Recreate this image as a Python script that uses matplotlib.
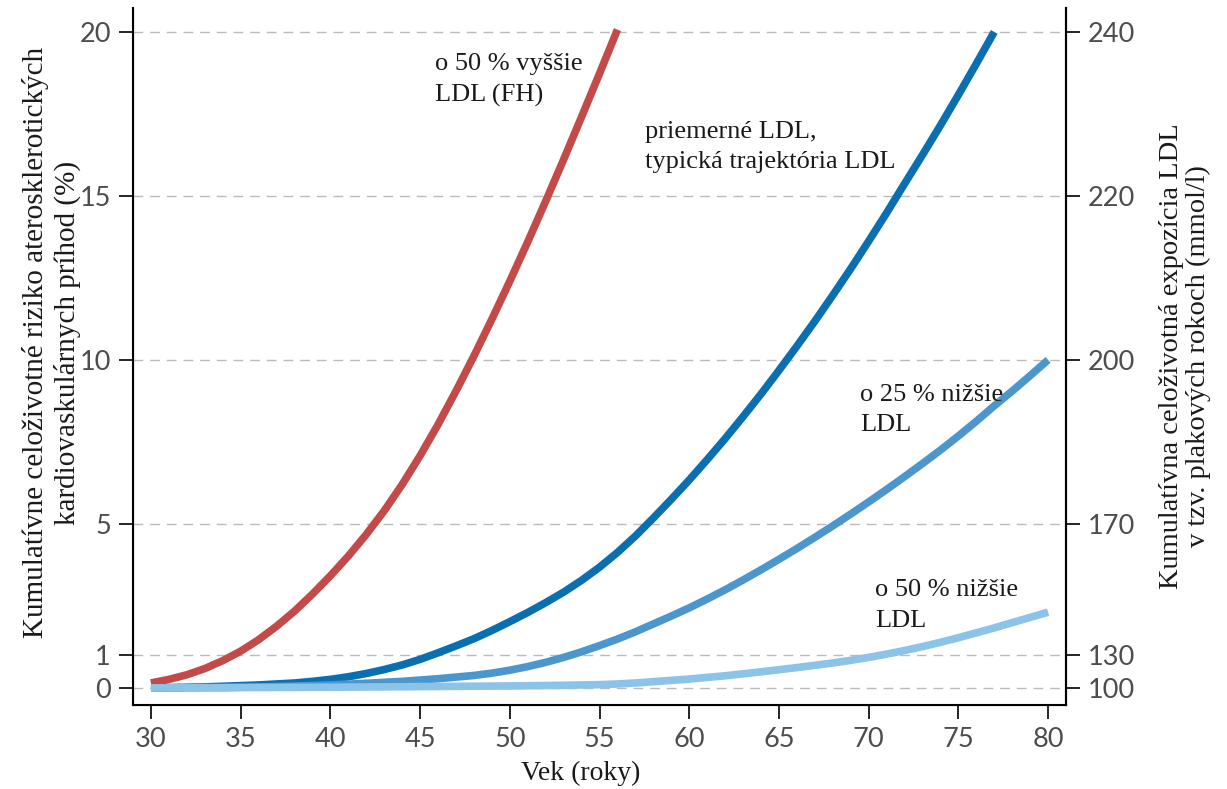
# Kumulativne riziko ASKVO podla veku a trajektorie LDL
import numpy as np
import matplotlib
matplotlib.use("Agg")
import matplotlib.pyplot as plt

# data odcitane z grafu (vek v rokoch, riziko v %)
age_fh = [30, 31, 32, 33, 34, 35, 36, 37, 38, 39, 40, 41, 42, 43, 44, 45, 46, 47, 48, 49, 50,
          51, 52, 53, 54, 55, 56]
risk_fh = [0.15, 0.26, 0.4, 0.59, 0.83, 1.12, 1.47, 1.88, 2.34, 2.86, 3.42, 4.02, 4.68, 5.4, 6.2,
           7.08, 8.03, 9.05, 10.12, 11.24, 12.4, 13.6, 14.84, 16.11, 17.41, 18.73, 20.07]

age_avg = [30, 32, 33, 34, 35, 36, 37, 38, 39, 40, 41, 42, 43, 44, 45, 46, 47, 48, 49, 50, 51, 52,
           53, 54, 55, 56, 57, 58, 59, 60, 61, 62, 63, 64, 65, 66, 67, 68, 69, 70, 71, 72, 73, 74,
           75, 76, 77]
risk_avg = [0.0, 0.02, 0.03, 0.05, 0.07, 0.09, 0.12, 0.15, 0.2, 0.26, 0.34, 0.44, 0.56, 0.7, 0.87,
            1.07, 1.28, 1.5, 1.75, 2.02, 2.3, 2.6, 2.92, 3.28, 3.68, 4.13, 4.63, 5.18, 5.75, 6.34,
            6.96, 7.6, 8.27, 8.96, 9.68, 10.42, 11.18, 11.97, 12.78, 13.62, 14.48, 15.37, 16.25,
            17.15, 18.08, 19.03, 20.0]

age_m25 = [30, 34, 37, 40, 42, 44, 46, 48, 49, 50, 51, 52, 53, 54, 55, 56, 57, 58, 59, 60, 61, 62,
           63, 64, 65, 66, 67, 68, 69, 70, 71, 72, 73, 74, 75, 76, 77, 78, 79, 80]
risk_m25 = [0.0, 0.01, 0.04, 0.09, 0.14, 0.2, 0.28, 0.38, 0.45, 0.54, 0.65, 0.78, 0.93, 1.1, 1.29,
            1.49, 1.71, 1.95, 2.19, 2.44, 2.71, 2.99, 3.29, 3.6, 3.92, 4.25, 4.59, 4.94, 5.3, 5.67,
            6.05, 6.44, 6.84, 7.25, 7.68, 8.13, 8.6, 9.05, 9.52, 10.0]

age_m50 = [30, 40, 45, 50, 53, 55, 56, 57, 58, 59, 60, 61, 62, 63, 64, 65, 66, 67, 68, 69, 70, 71,
           72, 73, 74, 75, 76, 77, 78, 79, 80]
risk_m50 = [0.0, 0.02, 0.04, 0.06, 0.08, 0.1, 0.12, 0.15, 0.19, 0.23, 0.27, 0.32, 0.37, 0.43, 0.49,
            0.555, 0.62, 0.69, 0.76, 0.84, 0.93, 1.03, 1.14, 1.26, 1.39, 1.53, 1.68, 1.83, 1.99,
            2.15, 2.31]

left_ticks = [0, 1, 5, 10, 15, 20]
right_labels = ['100', '130', '170', '200', '220', '240']
x_ticks = [30, 35, 40, 45, 50, 55, 60, 65, 70, 75, 80]

serif = 'Liberation Serif'
tick_font = 'Lato'
tick_col = '#4d4d4d'
txt_col = '#1a1a1a'

fig = plt.figure(figsize=(12.27, 7.89), dpi=100)
ax = fig.add_axes([0.1084, 0.1065, 0.7604, 0.8834])

ax.plot(age_fh, risk_fh, color='#c44a4a', lw=5.5, solid_capstyle='butt')
ax.plot(age_avg, risk_avg, color='#0a6fb0', lw=5.5, solid_capstyle='butt')
ax.plot(age_m25, risk_m25, color='#4b96cd', lw=5.5, solid_capstyle='butt')
ax.plot(age_m50, risk_m50, color='#8cc3e8', lw=5.5, solid_capstyle='butt')

ax.set_xlim(29, 81)
ax.set_ylim(-0.52, 20.73)
ax.set_xticks(x_ticks)
ax.set_yticks(left_ticks)
for y in left_ticks:
    ax.axhline(y, color='#bbbbbb', lw=1, dashes=(7, 5), zorder=0)

ax.spines['top'].set_visible(False)
for s in ['left', 'bottom', 'right']:
    ax.spines[s].set_linewidth(1.5)
ax.tick_params(axis='both', direction='out', length=10, width=1.2, colors='black',
               labelcolor=tick_col, labelsize=19.5, pad=6)
for lab in ax.get_xticklabels() + ax.get_yticklabels():
    lab.set_family(tick_font)

ax2 = ax.twinx()
ax2.set_ylim(ax.get_ylim())
ax2.set_yticks(left_ticks)
ax2.set_yticklabels(right_labels)
ax2.spines['top'].set_visible(False)
ax2.spines['right'].set_linewidth(1.5)
ax2.tick_params(axis='y', direction='out', length=10, width=1.2, colors='black',
                labelcolor=tick_col, labelsize=19.5, pad=6)
for lab in ax2.get_yticklabels():
    lab.set_family(tick_font)

ax.set_xlabel('Vek (roky)', family=serif, fontsize=20, color=txt_col, x=0.48, labelpad=6)
ax.set_ylabel('Kumulatívne celoživotné riziko aterosklerotických\nkardiovaskulárnych príhod (%)',
              family=serif, fontsize=21, color=txt_col, linespacing=1.2, y=0.52, labelpad=-1)
ax2.set_ylabel('Kumulatívna celoživotná expozícia LDL\nv tzv. plakových rokoch (mmol/l)',
               family=serif, fontsize=20.5, color=txt_col, linespacing=1.1, labelpad=17)

ann = dict(family=serif, fontsize=19, color=txt_col, ha='left', va='top', linespacing=1.5)
ax.text(45.83, 19.35, 'o 50 % vyššie\nLDL (FH)', **ann)
ax.text(57.54, 17.29, 'priemerné LDL,\ntypická trajektória LDL', **ann)
ax.text(69.52, 9.27, 'o 25 % nižšie\nLDL', **ann)
ax.text(70.36, 3.32, 'o 50 % nižšie\nLDL', **ann)

fig.savefig('out.png', dpi=100)
